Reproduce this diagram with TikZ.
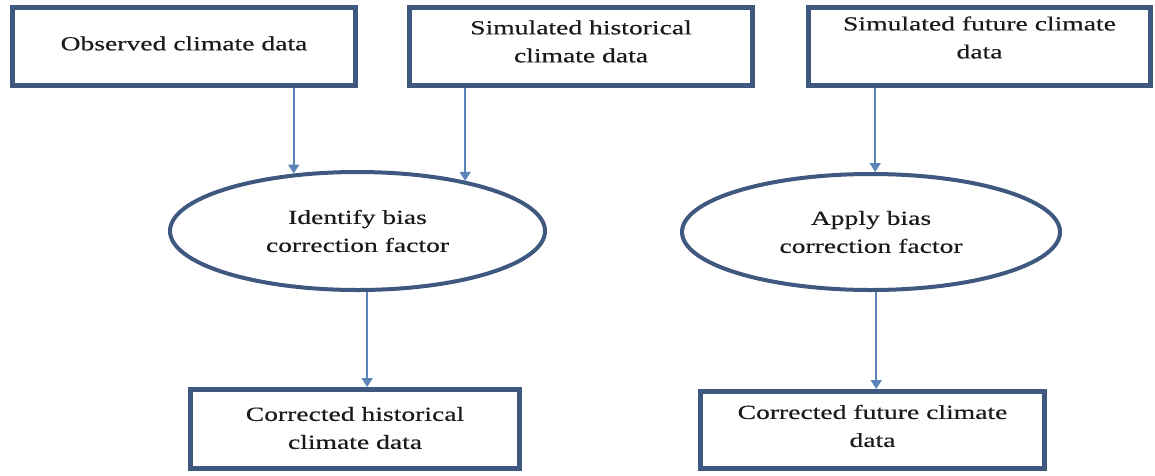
\documentclass[tikz,border=0pt]{standalone}
\usepackage{fontspec}
\setmainfont[FakeStretch=1.38,FakeBold=0.4]{Liberation Serif}
\usetikzlibrary{arrows.meta,shapes.geometric}
\definecolor{boxblue}{HTML}{3F5880}
\definecolor{arrblue}{HTML}{5B84B8}
\definecolor{txtgray}{HTML}{1A1A1A}
\tikzset{
  boxst/.style={draw=boxblue, line width=5pt, rectangle, inner sep=0pt},
  ellst/.style={draw=boxblue, line width=4pt, ellipse, inner sep=0pt, align=center,
     font=\fontsize{20pt}{28pt}\selectfont, text=txtgray},
  txt/.style={align=center, font=\fontsize{20pt}{28pt}\selectfont, text=txtgray, inner sep=0pt},
  arr/.style={draw=arrblue, line width=1.7pt, -{Triangle[width=11pt,length=9pt]}}
}
\begin{document}
\begin{tikzpicture}[x=1pt,y=-1pt]
\useasboundingbox (0,0) rectangle (1155,475);
% top boxes
\node[boxst, minimum width=343pt, minimum height=78pt] (b1) at (184,46.5) {};
\node[txt] (t1) at ([yshift=3pt]b1.center) {Observed climate data};
\node[boxst, minimum width=343pt, minimum height=78pt] (b2) at (581,46.5) {};
\node[txt] (t2) at ([yshift=5pt]b2.center) {Simulated historical\\climate data};
\node[boxst, minimum width=342pt, minimum height=78pt] (b3) at (979.5,46.5) {};
\node[txt] (t3) at ([yshift=9pt]b3.center) {Simulated future climate\\data};
% ellipses
\node[ellst, minimum width=375pt, minimum height=118pt] (e1) at (357.5,231) {Identify bias\\correction factor};
\node[ellst, minimum width=378pt, minimum height=116pt] (e2) at (871,232) {Apply bias\\correction factor};
% bottom boxes
\node[boxst, minimum width=329pt, minimum height=79pt] (b4) at (355,429) {};
\node[txt] (t4) at ([yshift=1pt]b4.center) {Corrected historical\\climate data};
\node[boxst, minimum width=344pt, minimum height=77pt] (b5) at (872.5,430) {};
\node[txt] (t5) at ([yshift=4pt]b5.center) {Corrected future climate\\data};
% arrows
\draw[arr] (e1.138.3 |- b1.south) -- (e1.138.3);
\draw[arr] (e1.25.7 |- b2.south) -- (e1.25.7);
\draw[arr] (e2.86 |- b3.south) -- (e2.86);
\draw[arr] (e1.-81.1) -- (e1.-81.1 |- b4.north);
\draw[arr] (e2.-85.2) -- (e2.-85.2 |- b5.north);
\end{tikzpicture}
\end{document}
